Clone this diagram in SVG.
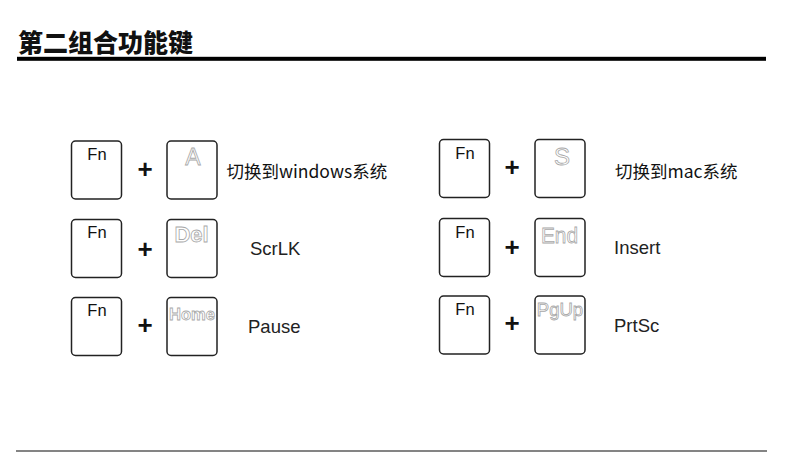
<svg xmlns="http://www.w3.org/2000/svg" width="790" height="465" viewBox="0 0 790 465">
<style>
.key{fill:#fff;stroke:#222;stroke-width:1.5}
.fn{font-family:"Liberation Sans",Arial,sans-serif;font-size:16.5px;fill:#111;text-anchor:middle}
.leg{font-family:"Liberation Sans",Arial,sans-serif;fill:#fff;stroke:#a8a8a8;stroke-width:0.8;text-anchor:middle}
.plus{font-family:"Liberation Sans",Arial,sans-serif;font-size:26px;font-weight:bold;fill:#111;text-anchor:middle}
.lab{font-family:"Liberation Sans",Arial,sans-serif;font-size:18.5px;fill:#222}
.cjk{font-family:"Noto Sans CJK SC","Noto Sans",sans-serif;font-size:17.5px;fill:#111}
</style>
<rect width="790" height="465" fill="#fff"/>
<g id="title">
<text x="18" y="51.5" font-family="'Noto Sans CJK SC',sans-serif" font-size="25" font-weight="900" fill="#111" textLength="175" lengthAdjust="spacingAndGlyphs">第二组合功能键</text>
<rect x="17" y="56.8" width="749" height="4" fill="#000"/>
</g>
<g id="footer-line"><rect x="16" y="450.2" width="751" height="1.6" fill="#666"/></g>

<g id="row-left-1">
<rect class="key" x="71.5" y="141" width="50" height="58" rx="4"/>
<text class="fn" x="97" y="159.5">Fn</text>
<text class="plus" x="145" y="178">+</text>
<rect class="key" x="167" y="141" width="50" height="58" rx="4"/>
<text class="leg" x="193" y="165" font-size="23">A</text>
<text class="cjk" x="226.5" y="178">切换到windows系统</text>
</g>
<g id="row-left-2">
<rect class="key" x="71.5" y="219.5" width="50" height="58" rx="4"/>
<text class="fn" x="97" y="238">Fn</text>
<text class="plus" x="145" y="258">+</text>
<rect class="key" x="167" y="219.5" width="50" height="58" rx="4"/>
<text class="leg" x="191.5" y="241.5" font-size="22" font-weight="bold">Del</text>
<text class="lab" x="250" y="255">ScrLK</text>
</g>
<g id="row-left-3">
<rect class="key" x="71.5" y="297.5" width="50" height="58" rx="4"/>
<text class="fn" x="97" y="316">Fn</text>
<text class="plus" x="145" y="334">+</text>
<rect class="key" x="167" y="297.5" width="50" height="58" rx="4"/>
<text class="leg" x="192" y="320" font-size="17" font-weight="bold" textLength="46" lengthAdjust="spacingAndGlyphs">Home</text>
<text class="lab" x="248" y="332.5">Pause</text>
</g>

<g id="row-right-1">
<rect class="key" x="439.5" y="139.5" width="50" height="58" rx="4"/>
<text class="fn" x="465" y="158.5">Fn</text>
<text class="plus" x="512" y="176">+</text>
<rect class="key" x="535" y="139.5" width="50" height="58" rx="4"/>
<text class="leg" x="562" y="165" font-size="24">S</text>
<text class="cjk" x="615" y="178">切换到mac系统</text>
</g>
<g id="row-right-2">
<rect class="key" x="439.5" y="218.5" width="50" height="58" rx="4"/>
<text class="fn" x="465" y="237.5">Fn</text>
<text class="plus" x="512" y="255.5">+</text>
<rect class="key" x="535" y="218.5" width="50" height="58" rx="4"/>
<text class="leg" x="559.5" y="243.3" font-size="22" textLength="37" lengthAdjust="spacingAndGlyphs">End</text>
<text class="lab" x="614" y="254" font-size="19.5">Insert</text>
</g>
<g id="row-right-3">
<rect class="key" x="439.5" y="296" width="50" height="58" rx="4"/>
<text class="fn" x="465" y="315">Fn</text>
<text class="plus" x="512" y="332">+</text>
<rect class="key" x="535" y="296" width="50" height="58" rx="4"/>
<text class="leg" x="560" y="316" font-size="18.5">PgUp</text>
<text class="lab" x="614" y="332">PrtSc</text>
</g>
</svg>
